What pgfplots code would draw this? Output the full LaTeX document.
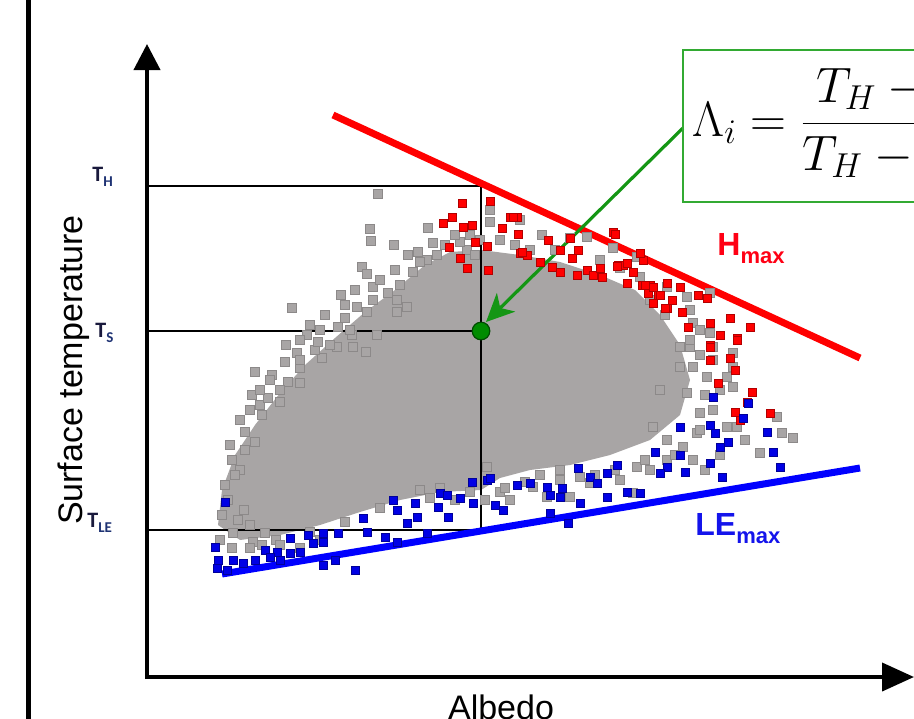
\documentclass[border=0pt]{standalone}
\usepackage{pgfplots}
\pgfplotsset{compat=1.18}
\usepackage{fontspec}
\setmainfont{Liberation Sans}
\newfontfamily\carl{Carlito}
\usetikzlibrary{arrows.meta}
\definecolor{cloud}{RGB}{168,165,165}
\definecolor{cloudedge}{RGB}{140,137,137}
\definecolor{tnavy}{RGB}{25,25,60}
\definecolor{tsub}{RGB}{30,50,115}
\definecolor{boxgreen}{RGB}{50,170,50}
\definecolor{arrgreen}{RGB}{20,150,20}
\definecolor{dotgreen}{RGB}{0,140,0}
\definecolor{hred}{RGB}{255,0,20}
\definecolor{leblue}{RGB}{20,20,235}
\begin{document}
\begin{tikzpicture}
\begin{axis}[
  width=457pt, height=359pt, scale only axis,
  xmin=0, xmax=914, ymin=0, ymax=718, y dir=reverse,
  axis lines=none, clip=true,
]
% dense core of the cloud
\addplot[fill=cloud, draw=none] coordinates {
(218,525)(222,490)(235,455)(255,425)(280,393)(305,365)(335,338)(365,312)(395,290)(425,265)
(450,252)(481,250)(520,255)(560,262)(600,275)(635,290)(660,315)(680,345)(690,380)(680,415)
(650,440)(610,455)(570,465)(530,470)(500,478)(481,490)(440,492)(400,500)(360,512)(320,525)
(280,535)(240,540)} -- cycle;
% scattered grey pixels
\addplot[only marks, mark=square*, mark size=2.3pt, mark options={fill=cloud, draw=cloudedge, line width=0.3pt}] coordinates {
(378,194)(370,229)(371,241)(394,245)(428,228)(362,267)(367,274)(408,255)(418,252)(373,287)(388,293)(341,295)(292,308)(357,307)(367,312)(373,300)(397,300)(345,318)(338,327)(307,335)(286,345)(297,353)(285,362)(255,372)(272,375)(322,358)(337,347)(353,347)(366,352)(352,335)(377,335)(397,312)(407,307)(433,243)(437,255)(427,260)(413,272)(467,250)(490,210)(490,222)
(288,382)(300,383)(252,395)(260,405)(280,402)(245,432)(255,442)(232,460)(225,485)(222,515)(238,520)(233,533)(253,542)(265,533)
(520,220)(542,235)(570,238)(587,237)(613,248)(637,257)(640,277)(667,287)(687,297)(710,293)(693,323)(713,347)(733,353)(710,333)(680,347)(693,367)(733,367)
(690,347)(713,360)(707,377)(727,377)(733,387)(700,413)(713,410)(727,427)(737,427)(697,433)(667,440)(683,447)(693,460)(760,453)(782,433)(793,438)(777,417)(667,460)(637,467)(633,493)(590,483)(580,477)(570,497)(547,497)(533,487)(510,500)(500,492)(487,467)(653,427)(660,390)(680,367)(687,393)
(320,330)(330,345)(315,350)(300,368)(280,390)(268,398)(262,415)(245,450)(240,470)(228,500)(244,510)(250,525)(262,545)(276,540)(300,548)(320,540)(460,242)(475,255)(500,240)(515,245)(530,250)(555,250)(600,260)(620,268)(650,300)(665,315)(690,310)(700,330)(720,390)(745,440)(720,455)(705,470)(650,470)(620,480)(560,470)(540,475)(470,492)(440,488)(420,490)
(300,340)(310,325)(325,315)(345,305)(355,290)(380,280)(395,270)(400,285)(420,262)(445,245)(455,235)(470,235)(480,240)(350,330)(260,390)(270,380)(250,410)(240,420)(230,445)(235,475)(300,360)(318,342)
(690,340)(700,355)(705,395)(700,430)(675,455)(645,460)(615,470)(595,475)(560,480)(525,482)(505,488)(485,500)(455,500)(430,498)(380,508)(345,522)(310,532)(280,545)(250,548)(232,548)(220,540)};
% red pixels (H max side)
\addplot[only marks, mark=square*, mark size=2pt, mark options={fill=red, draw=red!70!black, line width=0.3pt}] coordinates {
(462,203)(490,201)(452,217)(443,223)(463,227)(472,225)(502,228)(510,217)(517,217)(518,234)(475,242)(487,246)(449,247)(460,258)(467,268)(488,270)(520,253)(527,255)(540,262)(548,240)(560,250)(570,238)(572,258)(552,267)(560,272)(577,275)(587,270)(593,275)(602,277)(613,232)(618,265)(623,265)(633,272)(627,283)(642,285)(650,285)(658,295)(648,293)(667,308)(653,303)(513,217)(578,250)(522,252)(600,268)(617,266)(627,263)(643,260)(645,285)(653,287)(660,295)(667,283)(680,287)(665,308)(672,300)(682,312)(698,295)(707,298)(688,327)(710,323)(730,318)(750,327)(720,335)(737,338)(710,345)(730,358)(735,370)(615,234)(640,253)(710,347)(737,340)(710,360)(718,383)(752,392)(747,402)(735,412)(740,420)(770,413)};
% blue pixels (LE max side)
\addplot[only marks, mark=square*, mark size=2pt, mark options={fill=blue!90!black, draw=blue!60!black, line width=0.3pt}] coordinates {
(713,397)(748,403)(743,418)(710,425)(767,432)(715,433)(680,427)(728,442)(720,447)(773,452)(780,467)(680,455)(655,452)(667,467)(710,463)(722,477)(685,472)(660,473)(617,465)(607,473)(578,468)(590,477)(597,483)(487,480)(517,485)(530,483)(547,487)(562,488)(550,495)(560,497)(580,503)(607,497)(627,492)(640,493)(495,505)(503,510)(550,513)(568,523)
(225,502)(472,482)(490,478)(440,493)(447,495)(460,498)(473,503)(393,500)(397,510)(415,503)(438,507)(448,517)(417,517)(407,523)(363,518)(385,537)(367,532)(338,533)(323,533)(308,535)(290,538)(313,543)(323,542)(277,552)(290,553)(300,552)(265,550)(270,557)(280,560)(255,560)(243,563)(233,560)(215,547)(218,560)(217,568)(227,570)(323,565)(335,560)(355,570)(397,542)(427,533)};
% guide lines
\addplot[black, line width=1pt] coordinates {(147,186)(481,186)(481,530)(147,530)};
\addplot[black, line width=1pt] coordinates {(147,331)(481,331)};
% H max and LE max lines
\addplot[red, line width=3.5pt] coordinates {(333,115)(860,358)};
\addplot[blue, line width=3.5pt] coordinates {(222,574)(860,468)};
% frame and axes
\addplot[black, line width=2.5pt] coordinates {(28,-10)(28,730)};
\addplot[black, line width=2pt, -{Triangle[length=13pt,width=13pt]}] coordinates {(147,679)(147,44)};
\addplot[black, line width=2pt, -{Triangle[length=16pt,width=14pt]}] coordinates {(145,677)(914,677)};
% green arrow and point
\addplot[arrgreen, line width=1.6pt, -{Stealth[length=14pt,width=13pt,inset=4pt]}] coordinates {(683,128)(486,322)};
\addplot[only marks, mark=*, mark size=4.4pt, mark options={fill=dotgreen, draw=black!70!green, line width=0.6pt}] coordinates {(481,331)};
% formula box
\draw[boxgreen, line width=1.1pt] (axis cs:683,50) rectangle (axis cs:980,202);
\node[anchor=base west, inner sep=0pt] at (axis cs:692,136) {\fontsize{26}{30}\selectfont $\Lambda_i = \displaystyle\frac{T_H - T_S}{T_H - T_{LE}}$};
% labels
\node[anchor=base west, inner sep=0pt, text=hred] at (axis cs:717,255) {\fontsize{16}{18}\selectfont\bfseries H\raisebox{-4pt}{\fontsize{11}{13}\selectfont max}};
\node[anchor=base west, inner sep=0pt, text=leblue] at (axis cs:695,535) {\fontsize{16}{18}\selectfont\bfseries LE\raisebox{-4pt}{\fontsize{11}{13}\selectfont max}};
\node[anchor=base west, inner sep=0pt] at (axis cs:92,181) {\carl\bfseries\fontsize{11}{13}\selectfont\textcolor{tnavy}{T}\raisebox{-2.5pt}{\fontsize{7.5}{9}\selectfont\textcolor{tsub}{H}}};
\node[anchor=base west, inner sep=0pt] at (axis cs:95,337) {\carl\bfseries\fontsize{11}{13}\selectfont\textcolor{tnavy}{T}\raisebox{-2.5pt}{\fontsize{7.5}{9}\selectfont\textcolor{tsub}{S}}};
\node[anchor=base west, inner sep=0pt] at (axis cs:87,527) {\carl\bfseries\fontsize{11}{13}\selectfont\textcolor{tnavy}{T}\raisebox{-2.5pt}{\fontsize{7.5}{9}\selectfont\textcolor{tsub}{LE}}};
\node[rotate=90, anchor=center, inner sep=0pt] at (axis cs:74,370) {\fontsize{17}{20}\selectfont Surface temperature};
\node[anchor=base, inner sep=0pt] at (axis cs:501,719) {\fontsize{17}{20}\selectfont Albedo};
\end{axis}
\pgfresetboundingbox
\useasboundingbox (current axis.south west) rectangle (current axis.north east);
\end{tikzpicture}
\end{document}
